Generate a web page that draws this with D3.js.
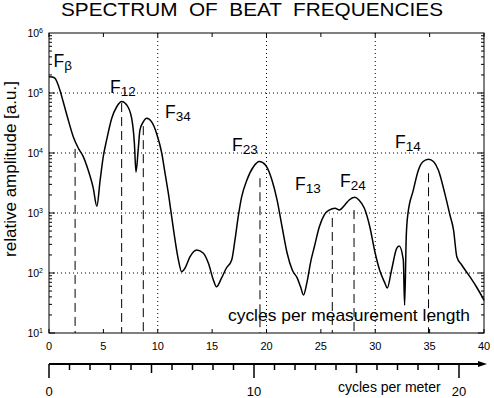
<!DOCTYPE html>
<html>
<head>
<meta charset="utf-8">
<script src="https://cdn.jsdelivr.net/npm/d3@7"></script>
<style>
  html, body { margin: 0; padding: 0; background: #fff; }
  svg { display: block; font-family: "Liberation Sans", Arial, sans-serif; }
</style>
</head>
<body>
<div id="chart"></div>
<script>
const cycles = [0, 0.3, 0.55, 1.0, 1.3, 1.77, 2.23, 2.7, 3.15, 3.6,
  4.07, 4.4, 4.7, 4.99, 5.3, 5.77, 6.23, 6.69, 7.15, 7.6,
  7.85, 8.0, 8.2, 8.36, 8.67, 8.98, 9.44, 9.9, 10.37, 10.67,
  10.98, 11.28, 11.59, 11.9, 12.2, 12.5, 12.97, 13.58, 14.2, 14.66,
  15.12, 15.4, 15.86, 16.3, 16.8, 17.1, 17.4, 17.72, 18.2, 18.8,
  19.35, 19.9, 20.5, 20.97, 21.43, 21.9, 22.37, 22.83, 23.13, 23.4,
  23.7, 24.1, 24.4, 24.86, 25.3, 25.77, 26.3, 26.7, 27.2, 27.6,
  28.1, 28.5, 29.0, 29.5, 29.93, 30.4, 30.9, 31.1, 31.5, 31.97,
  32.2, 32.58, 32.7, 32.85, 33.0, 33.5, 33.97, 34.4, 34.9, 35.35,
  35.8, 36.4, 36.87, 37.2, 37.5, 37.95, 38.7, 39.3, 39.9, 40];
const amplitude = [1.87e5, 1.85e5, 1.76e5, 1.12e5, 7.2e4, 3.55e4, 1.87e4, 1.2e4, 8.7e3, 5.2e3,
  2.6e3, 1.3e3, 3.5e3, 8.7e3, 1.65e4, 3.8e4, 5.9e4, 7.2e4, 6.3e4, 3.8e4,
  1.47e4, 4.8e3, 1.12e4, 2.4e4, 3.3e4, 3.8e4, 3.3e4, 2.1e4, 9.9e3, 4.6e3,
  2.1e3, 870, 355, 165, 105, 120, 187, 242, 213, 145,
  76, 59, 82, 120, 165, 355, 870, 1870, 3550, 5900,
  7200, 6300, 3550, 1650, 590, 213, 112, 82, 59, 43,
  67, 165, 274, 590, 925, 1120, 1200, 1120, 1360, 1650,
  1830, 1650, 1200, 590, 242, 112, 67, 56, 112, 258,
  282, 165, 29, 400, 960, 2400, 5200, 7200, 7900, 7200,
  5200, 2100, 925, 520, 187, 136, 87, 59, 38, 35];

// beat frequency markers
const peakSubs = ["β", "12", "34", "23", "13", "24", "14"];
const peakCycles = [2.4, 6.68, 8.67, 19.4, 26.05, 28.05, 34.9];
const peakTops = [1.17e4, 6.8e4, 2.8e4, 3.8e3, 826, 1.12e3, 4.6e3];
const labelCycles = [0.41, 5.61, 10.67, 16.83, 22.62, 26.76, 31.82];
const labelAmps = [2.7e5, 1.0e5, 3.8e4, 1.1e4, 2.4e3, 2.7e3, 1.2e4];

const xTicks = [0, 5, 10, 15, 20, 25, 30, 35, 40];
const xGrid = [10, 20, 30];
const yDecades = [1, 2, 3, 4, 5, 6];
const meterTicks = d3.range(0, 21);
const meterLabels = [0, 10, 20];

const width = 494, height = 398;
const svg = d3.select("#chart").append("svg")
    .attr("width", width)
    .attr("height", height);

const x = d3.scaleLinear().domain([0, 40]).range([49, 484]);
const y = d3.scaleLog().domain([10, 1e6]).range([333, 33]);
const xm = d3.scaleLinear().domain([0, 20]).range([49, 459]);

// title, stretched a bit like the scan
svg.append("text")
    .attr("x", 252).attr("y", 16)
    .attr("text-anchor", "middle")
    .attr("textLength", 382).attr("lengthAdjust", "spacingAndGlyphs")
    .style("font-size", "19px")
    .style("white-space", "pre")
    .text("SPECTRUM  OF  BEAT  FREQUENCIES");

// grid
svg.selectAll(".hgrid")
    .data(yDecades.slice(1, 5))
    .enter().append("line")
    .attr("x1", x(0)).attr("x2", x(40))
    .attr("y1", d => y(Math.pow(10, d))).attr("y2", d => y(Math.pow(10, d)))
    .attr("stroke", "#000").attr("stroke-dasharray", "1,3");
svg.selectAll(".vgrid")
    .data(xGrid)
    .enter().append("line")
    .attr("x1", d => x(d)).attr("x2", d => x(d))
    .attr("y1", y(1e6)).attr("y2", y(10))
    .attr("stroke", "#000").attr("stroke-dasharray", "1,3");

// frame
svg.append("rect")
    .attr("x", x(0)).attr("y", y(1e6))
    .attr("width", x(40) - x(0)).attr("height", y(10) - y(1e6))
    .attr("fill", "none").attr("stroke", "#000");

// log ticks on both sides
const logTicks = [];
for (let e = 1; e < 6; e++) {
    for (let k = 1; k < 10; k++) logTicks.push({ v: k * Math.pow(10, e), major: k === 1 });
}
svg.selectAll(".ltick")
    .data(logTicks)
    .enter().append("line")
    .attr("x1", x(0)).attr("x2", d => x(0) + (d.major ? 6 : 3))
    .attr("y1", d => y(d.v)).attr("y2", d => y(d.v))
    .attr("stroke", "#000");
svg.selectAll(".rtick")
    .data(logTicks)
    .enter().append("line")
    .attr("x1", x(40)).attr("x2", d => x(40) - (d.major ? 6 : 3))
    .attr("y1", d => y(d.v)).attr("y2", d => y(d.v))
    .attr("stroke", "#000");

// x ticks top and bottom
svg.selectAll(".xtb")
    .data(xTicks)
    .enter().append("line")
    .attr("x1", d => x(d)).attr("x2", d => x(d))
    .attr("y1", y(10)).attr("y2", y(10) - 4)
    .attr("stroke", "#000");
svg.selectAll(".xtt")
    .data(xTicks)
    .enter().append("line")
    .attr("x1", d => x(d)).attr("x2", d => x(d))
    .attr("y1", y(1e6)).attr("y2", y(1e6) + 4)
    .attr("stroke", "#000");

// y tick labels 10^n
const yl = svg.selectAll(".ylab")
    .data(yDecades)
    .enter().append("text")
    .attr("x", 43)
    .attr("y", d => y(Math.pow(10, d)) + 4)
    .attr("text-anchor", "end")
    .style("font-size", "10.5px");
yl.append("tspan").text("10");
yl.append("tspan").attr("dy", -4).style("font-size", "7px").text(d => d);

// x tick labels
svg.selectAll(".xlab")
    .data(xTicks)
    .enter().append("text")
    .attr("x", d => x(d)).attr("y", 350)
    .attr("text-anchor", "middle")
    .style("font-size", "11px")
    .text(d => d);

// y axis title
svg.append("text")
    .attr("transform", "translate(16,169) rotate(-90)")
    .attr("text-anchor", "middle")
    .style("font-size", "17px")
    .text("relative amplitude [a.u.]");

// inner x label
svg.append("text")
    .attr("x", 228).attr("y", 321)
    .attr("textLength", 242).attr("lengthAdjust", "spacingAndGlyphs")
    .style("font-size", "17px")
    .text("cycles per measurement length");

// peak markers
svg.selectAll(".peak")
    .data(peakCycles)
    .enter().append("line")
    .attr("x1", d => x(d)).attr("x2", d => x(d))
    .attr("y1", (d, i) => y(peakTops[i])).attr("y2", y(10))
    .attr("stroke", "#000").attr("stroke-dasharray", "9,5");

const pl = svg.selectAll(".plab")
    .data(peakSubs)
    .enter().append("text")
    .attr("x", (d, i) => x(labelCycles[i]))
    .attr("y", (d, i) => y(labelAmps[i]))
    .style("font-size", "17.5px");
pl.append("tspan").text("F");
pl.append("tspan").attr("dy", 3).style("font-size", "13.5px").text(d => d);

// spectrum curve
const line = d3.line()
    .x(i => x(cycles[i]))
    .y(i => y(amplitude[i]))
    .curve(d3.curveMonotoneX);
svg.append("path")
    .datum(d3.range(cycles.length))
    .attr("d", line)
    .attr("fill", "none")
    .attr("stroke", "#000")
    .attr("stroke-width", 1.5);

// second axis in cycles per meter
const ay = 364;
svg.append("line")
    .attr("x1", xm(0)).attr("x2", 480)
    .attr("y1", ay).attr("y2", ay)
    .attr("stroke", "#000").attr("stroke-width", 2);
svg.append("path")
    .attr("d", `M478,${ay - 3}L487,${ay}L478,${ay + 3}Z`)
    .attr("fill", "#000");
svg.selectAll(".mtick")
    .data(meterTicks)
    .enter().append("line")
    .attr("x1", d => xm(d)).attr("x2", d => xm(d))
    .attr("y1", ay).attr("y2", d => ay + (d % 10 === 0 ? 14 : d % 5 === 0 ? 9 : 6))
    .attr("stroke", "#000").attr("stroke-width", 1.5);
svg.selectAll(".mlab")
    .data(meterLabels)
    .enter().append("text")
    .attr("x", d => xm(d)).attr("y", 396)
    .attr("text-anchor", "middle")
    .style("font-size", "13px")
    .text(d => d);
svg.append("text")
    .attr("x", 338).attr("y", 392)
    .style("font-size", "14px")
    .text("cycles per meter");
</script>
</body>
</html>
